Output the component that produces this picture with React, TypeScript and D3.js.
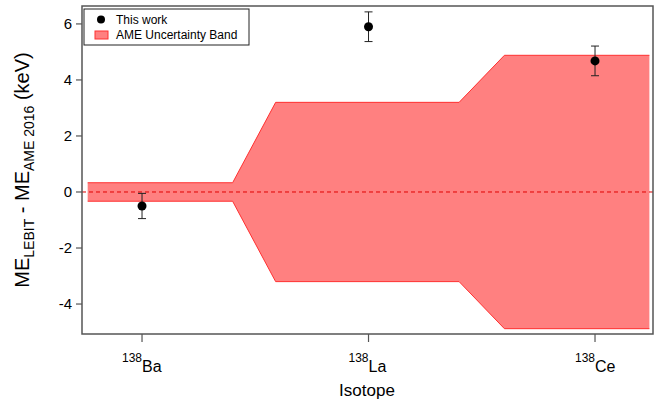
import React from "react";
import * as d3 from "d3";

const categories = ["Ba", "La", "Ce"];
const massNumbers = ["138", "138", "138"];
const thisWork = [-0.5, 5.9, 4.68];
const thisWorkErr = [0.45, 0.53, 0.53];
const bandX = [-0.24, 0.4, 0.59, 1.4, 1.6, 2.24];
const bandHalf = [0.33, 0.33, 3.2, 3.2, 4.88, 4.88];
const yTicks = [-4, -2, 0, 2, 4, 6];

const W = 654, H = 403;
const L = 82, R = 653, T = 6, B = 334;

export default function App() {
  const x = d3.scaleLinear().domain([-0.265, 2.256]).range([L, R]);
  const y = d3.scaleLinear().domain([-5.07, 6.64]).range([B, T]);
  const pts = bandX.map((bx, i) => ({ bx, h: bandHalf[i] }));
  const area = d3.area<{ bx: number; h: number }>()
    .x((d) => x(d.bx))
    .y0((d) => y(-d.h))
    .y1((d) => y(d.h));
  const upper = d3.line<{ bx: number; h: number }>().x((d) => x(d.bx)).y((d) => y(d.h));
  const lower = d3.line<{ bx: number; h: number }>().x((d) => x(d.bx)).y((d) => y(-d.h));
  const font = "Arial, 'Liberation Sans', sans-serif";
  const axisColor = "#555";
  return (
    <svg width={W} height={H} style={{ position: "absolute", left: 0, top: 0, background: "#fff" }} fontFamily={font}>
      <path d={area(pts) || ""} fill="#ff8080" stroke="none" />
      <path d={upper(pts) || ""} fill="none" stroke="#ff3030" strokeWidth={1} />
      <path d={lower(pts) || ""} fill="none" stroke="#ff3030" strokeWidth={1} />
      <line x1={L} x2={R} y1={y(0)} y2={y(0)} stroke="#e00000" strokeWidth={1} strokeDasharray="4,3" />
      {thisWork.map((v, i) => (
        <g key={i} stroke="#222" strokeWidth={1}>
          <line x1={x(i)} x2={x(i)} y1={y(v - thisWorkErr[i])} y2={y(v + thisWorkErr[i])} />
          <line x1={x(i) - 4} x2={x(i) + 4} y1={y(v - thisWorkErr[i])} y2={y(v - thisWorkErr[i])} />
          <line x1={x(i) - 4} x2={x(i) + 4} y1={y(v + thisWorkErr[i])} y2={y(v + thisWorkErr[i])} />
          <circle cx={x(i)} cy={y(v)} r={4.5} fill="#000" stroke="none" />
        </g>
      ))}
      <rect x={L} y={T} width={R - L} height={B - T} fill="none" stroke={axisColor} strokeWidth={1.5} />
      {yTicks.map((t) => (
        <g key={t}>
          <line x1={L - 6} x2={L} y1={y(t)} y2={y(t)} stroke={axisColor} strokeWidth={1.2} />
          <text x={L - 10} y={y(t)} dy="0.35em" textAnchor="end" fontSize={15} fill="#000">{t}</text>
        </g>
      ))}
      {categories.map((c, i) => (
        <g key={c}>
          <line x1={x(i)} x2={x(i)} y1={B} y2={B + 8} stroke={axisColor} strokeWidth={1.2} />
          <text x={x(i)} y={B + 28} fontSize={12} fill="#000" textAnchor="end">{massNumbers[i]}</text>
          <text x={x(i)} y={B + 38} fontSize={16} fill="#000" textAnchor="start">{c}</text>
        </g>
      ))}
      <text x={367} y={396} fontSize={17} textAnchor="middle" fill="#000">Isotope</text>
      <text transform={`translate(29, 170) rotate(-90)`} textAnchor="middle" fontSize={20} fill="#000">
        ME<tspan fontSize={14} dy={5}>LEBIT</tspan>
        <tspan dy={-5}> - ME</tspan>
        <tspan fontSize={14} dy={5}>AME 2016</tspan>
        <tspan dy={-5}> (keV)</tspan>
      </text>
      <g>
        <rect x={84} y={9} width={165} height={36} fill="#fff" stroke="#222" strokeWidth={1} />
        <circle cx={101} cy={19.5} r={4} fill="#000" />
        <text x={116} y={19.5} dy="0.35em" fontSize={12} fill="#000">This work</text>
        <rect x={95} y={31} width={13} height={8} fill="#ff8080" stroke="#ff3030" strokeWidth={1} />
        <text x={116} y={35} dy="0.35em" fontSize={12} fill="#000">AME Uncertainty Band</text>
      </g>
    </svg>
  );
}
